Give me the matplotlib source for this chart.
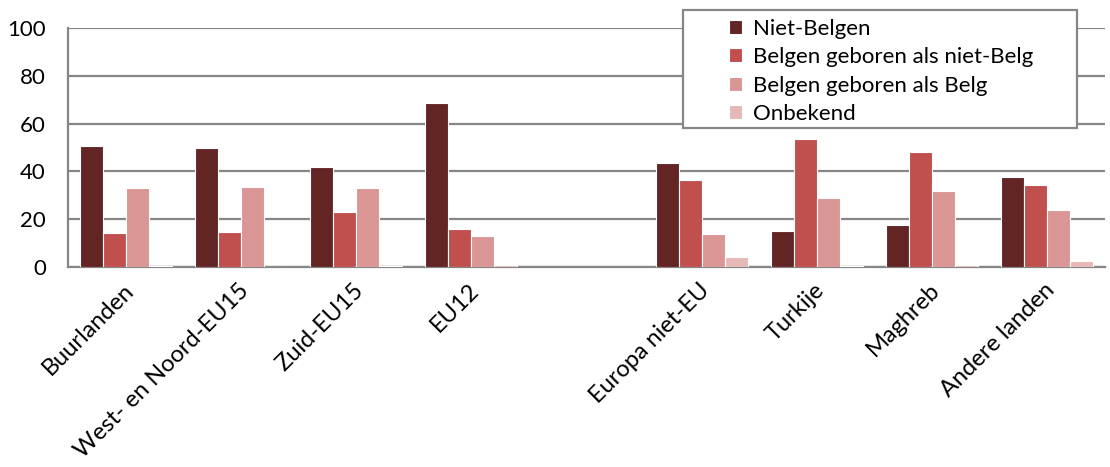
import matplotlib
matplotlib.use("Agg")
import matplotlib.pyplot as plt
from matplotlib.patches import Rectangle
import matplotlib.transforms as mtransforms
import numpy as np

plt.rcParams['font.family'] = ['Lato', 'DejaVu Sans']

categories = ["Buurlanden", "West- en Noord-EU15", "Zuid-EU15", "EU12", "",
              "Europa niet-EU", "Turkije", "Maghreb", "Andere landen"]
series_names = ["Niet-Belgen", "Belgen geboren als niet-Belg",
                "Belgen geboren als Belg", "Onbekend"]
niet_belgen = [50.5, 49.8, 42.0, 68.5, np.nan, 43.5, 15.0, 17.5, 37.5]
belgen_niet_belg = [14.3, 14.8, 23.0, 15.8, np.nan, 36.5, 53.8, 48.3, 34.5]
belgen_belg = [33.2, 33.5, 33.2, 13.0, np.nan, 14.0, 29.0, 31.7, 23.8]
onbekend = [0.3, 0.2, 0.3, 1.0, np.nan, 4.3, 0.6, 1.0, 2.7]
series = [niet_belgen, belgen_niet_belg, belgen_belg, onbekend]
colors = ["#632523", "#C0504D", "#D99694", "#E6B9B8"]
yticks = [0, 20, 40, 60, 80, 100]

FS = 16

fig = plt.figure(figsize=(11.1, 4.67), dpi=100)
ax = fig.add_axes([0.0613, 0.4283, 0.934, 0.5113])

x = np.arange(len(categories))
w = 0.2
for i, (vals, c, name) in enumerate(zip(series, colors, series_names)):
    ax.bar(x - 0.3 + i * w, vals, width=w, color=c, edgecolor="white",
           linewidth=0.8, label=name, zorder=3)

ax.set_xlim(-0.5, len(categories) - 0.5)
ax.set_ylim(0, 100)
ax.set_yticks(yticks)
ax.set_yticklabels([str(t) for t in yticks], fontsize=FS)
ax.yaxis.grid(True, color="#868686", linewidth=1.6, zorder=0)
ax.set_axisbelow(True)
for s in ["top", "right"]:
    ax.spines[s].set_visible(False)
for s in ["left", "bottom"]:
    ax.spines[s].set_color("#868686")
    ax.spines[s].set_linewidth(1.6)
ax.tick_params(axis="y", length=0, pad=16)
ax.tick_params(axis="x", length=0, pad=9)
ax.set_xticks(x)
labels = ax.set_xticklabels(categories, fontsize=17, rotation=45,
                            ha="right", va="top", rotation_mode="anchor")
offset = mtransforms.ScaledTranslation(-3 / 100, 0, fig.dpi_scale_trans)
for lab in labels:
    lab.set_transform(lab.get_transform() + offset)

# legend box
fig.patches.append(Rectangle((683 / 1110, 1 - 128 / 467), 394 / 1110, 118 / 467,
                             transform=fig.transFigure, facecolor="white",
                             edgecolor="#868686", linewidth=1.6, zorder=5))
leg = fig.legend(loc="upper left", bbox_to_anchor=(711 / 1110, 1 - 1 / 467),
                 frameon=False, fontsize=FS, handlelength=0.6,
                 handleheight=0.6, handletextpad=0.5, labelspacing=0.38,
                 borderpad=0.3)
leg.set_zorder(6)

fig.savefig("out.png", dpi=100)
